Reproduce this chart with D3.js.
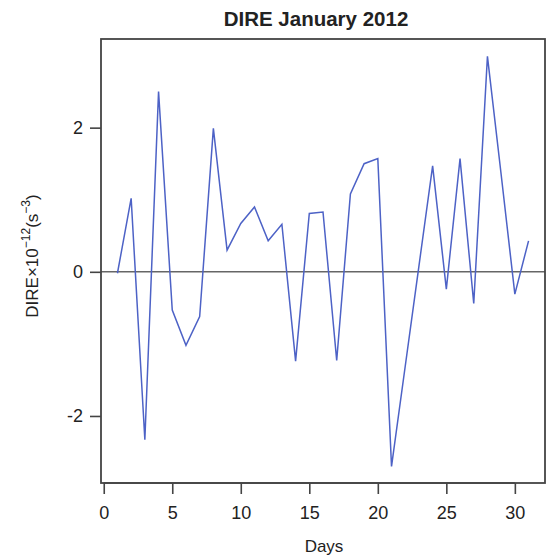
<!DOCTYPE html>
<html>
<head>
<meta charset="utf-8">
<script src="https://cdn.jsdelivr.net/npm/d3@7"></script>
<style>
  body { margin: 0; background: #fff; }
  text { font-family: "Liberation Sans", Arial, sans-serif; fill: #222; }
</style>
</head>
<body>
<script>
// days of January 2012 and DIRE values (x 10^-12 s^-3)
var days = d3.range(1, 32);
var dire = [-0.02, 1.02, -2.33, 2.50, -0.53, -1.02, -0.62, 1.99, 0.30, 0.67,
            0.90, 0.43, 0.66, -1.24, 0.81, 0.83, -1.23, 1.08, 1.50, 1.57,
            -2.70, -1.31, 0.08, 1.47, -0.24, 1.57, -0.44, 2.99, 1.35, -0.31, 0.43];
var xTicks = [0, 5, 10, 15, 20, 25, 30];
var yTicks = [-2, 0, 2];

var width = 546, height = 558;
var box = {left: 101, top: 39, right: 545, bottom: 483};

var svg = d3.select('body').append('svg')
        .attr('width', width)
        .attr('height', height);

var x = d3.scaleLinear().domain([-0.2, 32.2]).range([box.left, box.right]);
var y = d3.scaleLinear().domain([-2.93, 3.23]).range([box.bottom, box.top]);

// zero reference line
svg.append('line')
        .attr('x1', box.left).attr('x2', box.right)
        .attr('y1', y(0)).attr('y2', y(0))
        .attr('stroke', '#666')
        .attr('stroke-width', 1.6);

// series
var line = d3.line()
        .x(function(d, i) { return x(days[i]); })
        .y(function(d) { return y(d); });
svg.append('path')
        .datum(dire)
        .attr('d', line)
        .attr('fill', 'none')
        .attr('stroke', '#4d62c6')
        .attr('stroke-width', 1.5);

// plot frame
svg.append('rect')
        .attr('x', box.left).attr('y', box.top)
        .attr('width', box.right - box.left)
        .attr('height', box.bottom - box.top)
        .attr('fill', 'none')
        .attr('stroke', '#444')
        .attr('stroke-width', 1.8);

// x axis
var xAxis = svg.append('g')
        .attr('transform', 'translate(0,' + box.bottom + ')')
        .call(d3.axisBottom(x).tickValues(xTicks).tickSize(11).tickPadding(12));
xAxis.select('.domain')
        .attr('d', 'M' + x(0) + ',0H' + x(30))
        .attr('stroke', '#444').attr('stroke-width', 1.6);
xAxis.selectAll('.tick line').attr('stroke', '#444').attr('stroke-width', 1.6);
xAxis.selectAll('.tick text')
        .style('font-family', '"Liberation Sans", Arial, sans-serif')
        .style('font-size', '18px').attr('fill', '#222');

// y axis (plain hyphen for negatives, as in the original)
var yAxis = svg.append('g')
        .attr('transform', 'translate(' + box.left + ',0)')
        .call(d3.axisLeft(y).tickValues(yTicks).tickSize(11).tickPadding(7)
                .tickFormat(function(d) { return String(d); }));
yAxis.select('.domain').remove();
yAxis.selectAll('.tick line').attr('stroke', '#444').attr('stroke-width', 1.6);
yAxis.selectAll('.tick text')
        .style('font-family', '"Liberation Sans", Arial, sans-serif')
        .style('font-size', '18px').attr('fill', '#222');

// title
svg.append('text')
        .attr('x', 316).attr('y', 26)
        .attr('text-anchor', 'middle')
        .style('font-size', '20.5px')
        .style('font-weight', 'bold')
        .text('DIRE January 2012');

// axis titles
svg.append('text')
        .attr('x', 324).attr('y', 552)
        .attr('text-anchor', 'middle')
        .style('font-size', '17px')
        .text('Days');

var yl = svg.append('text')
        .attr('transform', 'translate(38,256) rotate(-90)')
        .attr('text-anchor', 'middle')
        .style('font-size', '17px');
yl.append('tspan').text('DIRE\u00d710');
yl.append('tspan').attr('dy', -8).style('font-size', '12px').text('\u221212');
yl.append('tspan').attr('dy', 8).text('(s');
yl.append('tspan').attr('dy', -8).style('font-size', '12px').text('\u22123');
yl.append('tspan').attr('dy', 8).text(')');
</script>
</body>
</html>
